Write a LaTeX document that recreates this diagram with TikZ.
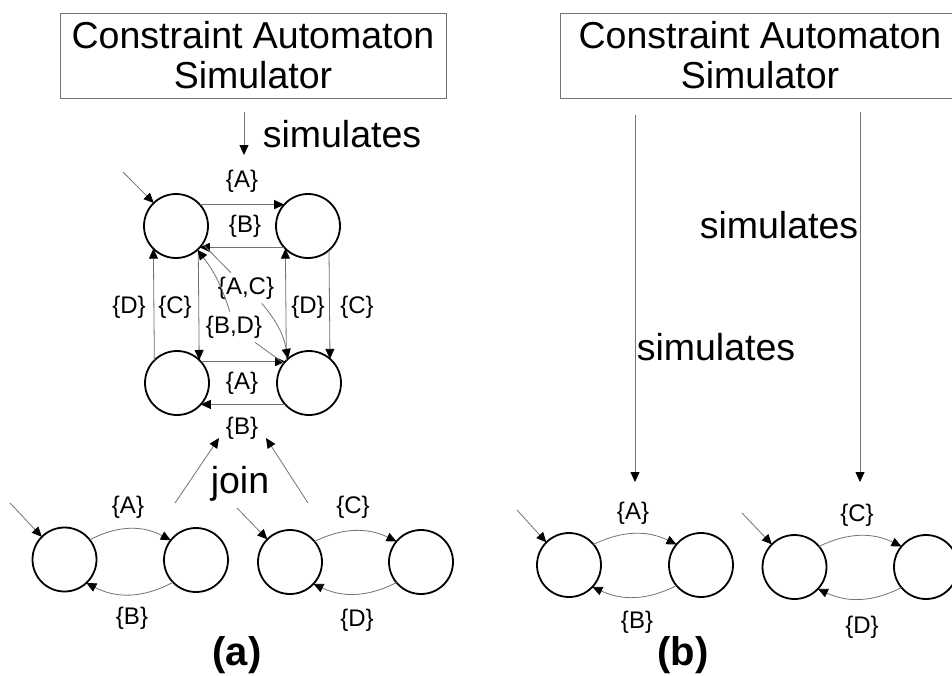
\documentclass[tikz,border=0pt]{standalone}
\usepackage{fontspec}
\setmainfont{Liberation Sans}
\usetikzlibrary{arrows.meta}
\begin{document}
\begin{tikzpicture}[x=1pt,y=-1pt,
  state/.style={circle, draw=black, line width=1.8pt, minimum size=64pt, inner sep=0pt, outer sep=0pt},
  tipb/.style={-{Triangle[length=10pt,width=9pt,color=black]}},
  conn/.style={draw=black!55, line width=0.8pt},
  edge/.style={conn, tipb},
  lbl/.style={font=\fontsize{24}{28}\selectfont, inner sep=0pt},
  dlbl/.style={font=\fontsize{24}{28}\selectfont, inner sep=4pt},
  big/.style={font=\fontsize{37.5}{40}\selectfont, inner sep=0pt},
  capt/.style={font=\bfseries\fontsize{40}{44}\selectfont, inner sep=0pt},
  simbox/.style={draw=black!55, line width=1pt, align=center, inner sep=0pt,
    minimum height=85pt, font=\fontsize{37.5}{40}\selectfont}
]
\clip (0,0) rectangle (952,675);
\fill[white] (0,0) rectangle (952,675);

% ---------------- (a) ----------------
\node[simbox, minimum width=386pt] (box1) at (253,55.5) {Constraint Automaton\\Simulator};
\coordinate (s1a) at (244,112);
\coordinate (s1b) at (244,155);
\draw[edge] (s1a) -- (s1b);
\node[big] (sim1) at (342,134) {simulates};

% product automaton
\node[state] (TL) at (176,226) {};
\node[state] (TR) at (308,226) {};
\node[state] (BL) at (177,383) {};
\node[state] (BR) at (309,383) {};
\coordinate (iTL) at (123,172);
\draw[edge] (iTL) -- (TL.134);

\draw[edge] (TL.42) -- (TR.138);
\node[lbl] (la1) at (242,181) {\{A\}};
\draw[edge] (TR.-138) -- (TL.-42);
\node[lbl] (lb1) at (245,226) {\{B\}};

\draw[edge] (BL.135) -- (TL.-135);
\node[lbl] (ld1) at (129,307) {\{D\}};
\draw[edge] (TL.-46) -- (BL.46);
\node[lbl] (lc1) at (175,307) {\{C\}};

\draw[edge] (BR.135) -- (TR.-135);
\node[lbl] (ld2) at (308,307) {\{D\}};
\draw[edge] (TR.-49) -- (BR.49);
\node[lbl] (lc2) at (357,307) {\{C\}};

\draw[edge] (BL.42) -- (BR.138);
\node[lbl] (la2) at (242,383) {\{A\}};
\draw[edge] (BR.-138) -- (BL.-42);
\node[lbl] (lb2) at (242,428) {\{B\}};

\node[dlbl] (ac) at (246,288) {\{A,C\}};
\node[dlbl] (bd) at (234,327) {\{B,D\}};
\draw[conn] (TL.-34) -- (ac);
\draw[edge] (ac) to[bend left=15] (BR.131);
\draw[conn] (BR.142) -- (bd);
\draw[edge] (bd) to[bend right=10] (TL.-48);

% join
\node[big] (join) at (240,484) {join};
\coordinate (jl1) at (175,503);
\coordinate (jl2) at (219,438);
\coordinate (jr1) at (308,503);
\coordinate (jr2) at (266,438);
\draw[edge] (jl1) -- (jl2);
\draw[edge] (jr1) -- (jr2);

% component automata (a)
\node[state] (L1) at (64.5,559.5) {};
\node[state] (L2) at (196,560) {};
\node[state] (L3) at (290,562) {};
\node[state] (L4) at (421,562) {};
\coordinate (iL1) at (10,503);
\coordinate (iL3) at (237,508);
\draw[edge] (iL1) -- (L1.135);
\draw[edge] (iL3) -- (L3.135);
\draw[edge] (L1.38) to[bend left=28] (L2.142);
\draw[edge] (L2.-136) to[bend left=28] (L1.-47);
\draw[edge] (L3.40) to[bend left=26] (L4.140);
\draw[edge] (L4.-140) to[bend left=26] (L3.-43);
\node[lbl] (la3) at (128,507) {\{A\}};
\node[lbl] (lb3) at (132,618) {\{B\}};
\node[lbl] (lc3) at (353,507) {\{C\}};
\node[lbl] (ld3) at (357,620) {\{D\}};
\node[capt] (capa) at (237,655) {(a)};

% ---------------- (b) ----------------
\node[simbox, minimum width=400pt] (box2) at (760,55.5) {Constraint Automaton\\Simulator};
\coordinate (v1a) at (635,115);
\coordinate (v1b) at (635,482);
\coordinate (v2a) at (860,112);
\coordinate (v2b) at (860,482);
\draw[edge] (v1a) -- (v1b);
\draw[edge] (v2a) -- (v2b);
\node[big] (sim2) at (779,225) {simulates};
\node[big] (sim3) at (716,347) {simulates};

\node[state] (R1) at (569,565) {};
\node[state] (R2) at (701,565) {};
\node[state] (R3) at (794.5,567) {};
\node[state] (R4) at (926,567) {};
\coordinate (iR1) at (517,510);
\coordinate (iR3) at (742,513);
\draw[edge] (iR1) -- (R1.135);
\draw[edge] (iR3) -- (R3.135);
\draw[edge] (R1.40) to[bend left=26] (R2.140);
\draw[edge] (R2.-140) to[bend left=26] (R1.-43);
\draw[edge] (R3.40) to[bend left=26] (R4.140);
\draw[edge] (R4.-140) to[bend left=26] (R3.-43);
\node[lbl] (la4) at (633,513) {\{A\}};
\node[lbl] (lb4) at (637,622) {\{B\}};
\node[lbl] (lc4) at (857,515) {\{C\}};
\node[lbl] (ld4) at (862,627) {\{D\}};
\node[capt] (capb) at (683,655) {(b)};
\end{tikzpicture}
\end{document}
